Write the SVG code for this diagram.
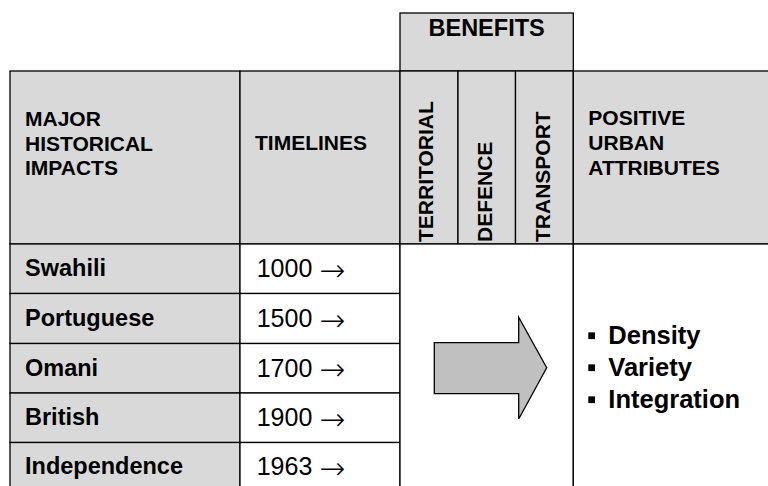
<svg xmlns="http://www.w3.org/2000/svg" width="768" height="486" viewBox="0 0 768 486">
<style>
.g{fill:#d9d9d9;stroke:#000;stroke-width:1.3}
.w{fill:#fff;stroke:#000;stroke-width:1.3}
text{font-family:"Liberation Sans",Arial,sans-serif;fill:#000}
.hd{font-weight:bold;font-size:21px}
.vt{font-weight:bold;font-size:21px}
.bt{font-weight:bold;font-size:23.5px}
.rw{font-weight:bold;font-size:23.5px}
.yr{font-size:25px}
.ar{font-family:"DejaVu Sans",sans-serif;font-weight:200;font-size:31px}
.bl{font-weight:bold;font-size:25.5px}
</style>
<rect x="0" y="0" width="768" height="486" fill="#fff"/>
<g id="benefits-title">
<rect class="g" x="400" y="13" width="173.3" height="58"/>
<text class="bt" x="486.6" y="35.5" text-anchor="middle">BENEFITS</text>
</g>
<g id="header-impacts">
<rect class="g" x="10" y="71" width="230" height="173"/>
<text class="hd" x="25" y="126">MAJOR</text>
<text class="hd" x="25" y="150.5">HISTORICAL</text>
<text class="hd" x="25" y="175">IMPACTS</text>
</g>
<g id="header-timelines">
<rect class="g" x="240" y="71" width="160" height="173"/>
<text class="hd" x="255" y="150">TIMELINES</text>
</g>
<g id="header-territorial">
<rect class="g" x="400" y="71" width="58" height="173"/>
<text class="vt" transform="translate(433,242) rotate(-90)">TERRITORIAL</text>
</g>
<g id="header-defence">
<rect class="g" x="458" y="71" width="57.5" height="173"/>
<text class="vt" transform="translate(491.5,242) rotate(-90)">DEFENCE</text>
</g>
<g id="header-transport">
<rect class="g" x="515.5" y="71" width="57.8" height="173"/>
<text class="vt" transform="translate(550,242) rotate(-90)">TRANSPORT</text>
</g>
<g id="header-attributes">
<rect class="g" x="573.3" y="71" width="210" height="173"/>
<text class="hd" x="588.3" y="125">POSITIVE</text>
<text class="hd" x="588.3" y="150">URBAN</text>
<text class="hd" x="588.3" y="175">ATTRIBUTES</text>
</g>
<g id="row-swahili">
<rect class="g" x="10" y="244" width="230" height="49.5"/>
<rect class="w" x="240" y="244" width="160" height="49.5"/>
<text class="rw" x="25" y="276">Swahili</text>
<text class="yr" x="256.7" y="277">1000 <tspan class="ar" dy="3.5">→</tspan></text>
</g>
<g id="row-portuguese">
<rect class="g" x="10" y="293.5" width="230" height="50"/>
<rect class="w" x="240" y="293.5" width="160" height="50"/>
<text class="rw" x="25" y="326">Portuguese</text>
<text class="yr" x="256.7" y="327">1500 <tspan class="ar" dy="3.5">→</tspan></text>
</g>
<g id="row-omani">
<rect class="g" x="10" y="343.5" width="230" height="49.5"/>
<rect class="w" x="240" y="343.5" width="160" height="49.5"/>
<text class="rw" x="25" y="375.5">Omani</text>
<text class="yr" x="256.7" y="376.5">1700 <tspan class="ar" dy="3.5">→</tspan></text>
</g>
<g id="row-british">
<rect class="g" x="10" y="393" width="230" height="49.5"/>
<rect class="w" x="240" y="393" width="160" height="49.5"/>
<text class="rw" x="25" y="425">British</text>
<text class="yr" x="256.7" y="426">1900 <tspan class="ar" dy="3.5">→</tspan></text>
</g>
<g id="row-independence">
<rect class="g" x="10" y="442.5" width="230" height="60"/>
<rect class="w" x="240" y="442.5" width="160" height="60"/>
<text class="rw" x="25" y="474">Independence</text>
<text class="yr" x="256.7" y="475">1963 <tspan class="ar" dy="3.5">→</tspan></text>
</g>
<g id="benefits-body">
<rect class="w" x="400" y="244" width="173.3" height="260"/>
</g>
<g id="attributes-body">
<rect class="w" x="573.3" y="244" width="210" height="260"/>
<rect x="588.3" y="332.4" width="6.7" height="6.7" fill="#000"/>
<text class="bl" x="608.3" y="344">Density</text>
<rect x="588.3" y="364.4" width="6.7" height="6.7" fill="#000"/>
<text class="bl" x="608.3" y="376">Variety</text>
<rect x="588.3" y="396.4" width="6.7" height="6.7" fill="#000"/>
<text class="bl" x="608.3" y="408">Integration</text>
</g>
<g id="connectors">
<polygon id="big-arrow" points="434.3,342.7 518.7,342.7 518.7,317.3 546.7,367.7 518.7,419 518.7,393.7 434.3,393.7" fill="#c0c0c0" stroke="#000" stroke-width="1.3" stroke-linejoin="miter"/>
</g>
</svg>
